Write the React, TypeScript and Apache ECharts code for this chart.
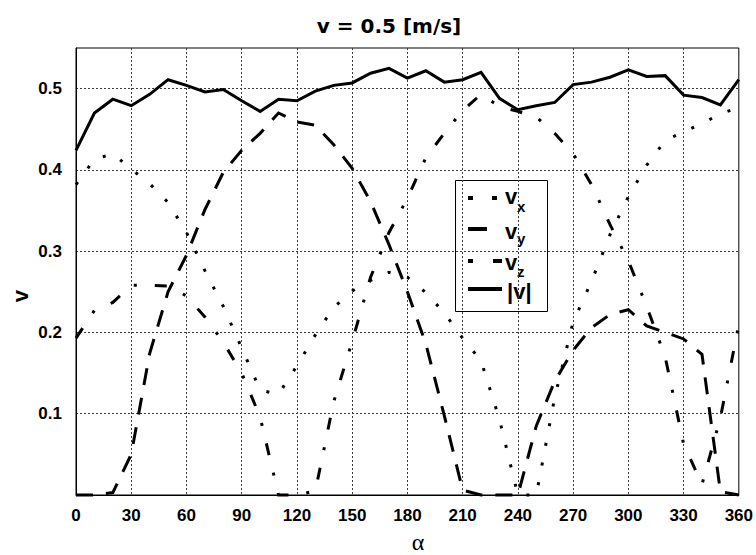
import React, { useEffect, useRef } from "react";
import * as echarts from "echarts";

// angle alpha [deg]
const alphaDeg = [
  0, 10, 20, 30, 40, 50, 60, 70, 80, 90, 100, 110, 120, 130, 140, 150, 160, 170, 180,
  190, 200, 210, 220, 230, 240, 250, 260, 270, 280, 290, 300, 310, 320, 330, 340, 350, 360,
];

// velocity components [m/s]
const vxValues = [
  0.382, 0.413, 0.42, 0.401, 0.383, 0.36, 0.323, 0.276, 0.232, 0.181, 0.129, 0.124, 0.159,
  0.197, 0.231, 0.251, 0.264, 0.274, 0.268, 0.249, 0.224, 0.193, 0.165, 0.093, 0.0, 0.0,
  0.12, 0.213, 0.263, 0.32, 0.367, 0.406, 0.436, 0.447, 0.457, 0.469, 0.477,
];
const vyValues = [
  0.0, 0.0, 0.003, 0.05, 0.174, 0.25, 0.295, 0.351, 0.397, 0.424, 0.445, 0.47, 0.459,
  0.455, 0.431, 0.402, 0.361, 0.308, 0.25, 0.186, 0.098, 0.006, 0.0, 0.0, 0.0, 0.085,
  0.14, 0.178, 0.206, 0.222, 0.228, 0.208, 0.2, 0.192, 0.173, 0.004, 0.0,
];
const vzValues = [
  0.193, 0.227, 0.237, 0.258, 0.258, 0.257, 0.245, 0.219, 0.188, 0.15, 0.096, 0.0, 0.0,
  0.005, 0.115, 0.189, 0.268, 0.323, 0.365, 0.415, 0.445, 0.473, 0.493, 0.478, 0.472,
  0.465, 0.445, 0.42, 0.382, 0.333, 0.288, 0.232, 0.17, 0.063, 0.013, 0.095, 0.21,
];
const vAbsValues = [
  0.424, 0.47, 0.487, 0.479, 0.493, 0.511, 0.504, 0.496, 0.499, 0.485, 0.472, 0.487, 0.485,
  0.497, 0.504, 0.507, 0.519, 0.525, 0.513, 0.522, 0.508, 0.511, 0.52, 0.488, 0.474, 0.479,
  0.483, 0.505, 0.508, 0.514, 0.523, 0.515, 0.516, 0.492, 0.489, 0.48, 0.511,
];

const seriesNames = ["vx", "vy", "vz", "|v|"];
const titleText = "v = 0.5 [m/s]";
const xAxisTitle = "\u03b1";
const yAxisTitle = "v";

const SANS = "'Liberation Sans', Arial, Helvetica, sans-serif";
const TITLE_FONT = "'DejaVu Sans', 'Liberation Sans', sans-serif";
const SERIF = "'Liberation Serif', 'Times New Roman', serif";

export default function App() {
  const ref = useRef<HTMLDivElement>(null);

  useEffect(() => {
    if (!ref.current) return;
    const chart = echarts.init(ref.current, null, { renderer: "svg" });
    const pair = (ys: number[]) => alphaDeg.map((a, i) => [a, ys[i]]);

    const lineSeries = (name: string, ys: number[], type: any) => ({
      name,
      type: "line",
      data: pair(ys),
      symbol: "none",
      showSymbol: false,
      clip: false,
      z: 3,
      lineStyle: { color: "#000", width: 3, type, cap: "butt", join: "miter" },
    });

    const legendX = 455.5;
    const legendY = 180.5;
    const sampleX = 468;
    const legendText = (text: string, x: number, y: number, size: number) => ({
      type: "text",
      x,
      y,
      style: {
        text,
        fontFamily: SANS,
        fontSize: size,
        fontWeight: "bold",
        fill: "#000",
        verticalAlign: "middle",
      },
    });
    const sample = (x: number, y: number, w: number) => ({
      type: "rect",
      shape: { x, y, width: w, height: 4 },
      style: { fill: "#000" },
    });

    const option: any = {
      animation: false,
      backgroundColor: "#fff",
      grid: {
        left: 76,
        right: 12,
        top: 48,
        bottom: 60,
        show: true,
        borderColor: "#000",
        borderWidth: 1,
        backgroundColor: "transparent",
      },
      xAxis: {
        type: "value",
        min: 0,
        max: 360,
        interval: 30,
        axisLine: { show: true, lineStyle: { color: "#000", width: 1 } },
        axisTick: { show: false },
        axisLabel: {
          margin: 12,
          color: "#000",
          fontFamily: SANS,
          fontSize: 17,
          fontWeight: "bold",
        },
        splitLine: {
          show: true,
          showMinLine: false,
          showMaxLine: false,
          lineStyle: { color: "#3a3a3a", width: 1, type: [2, 2] },
        },
      },
      yAxis: {
        type: "value",
        min: 0,
        max: 0.55,
        interval: 0.1,
        axisLine: { show: true, lineStyle: { color: "#000", width: 1 } },
        axisTick: { show: false },
        axisLabel: {
          margin: 14,
          color: "#000",
          fontFamily: SANS,
          fontSize: 17,
          fontWeight: "bold",
          formatter: (v: number) => (v < 0.05 || v > 0.52 ? "" : v.toFixed(1)),
        },
        splitLine: {
          show: true,
          showMinLine: false,
          showMaxLine: false,
          lineStyle: { color: "#3a3a3a", width: 1, type: [2, 2] },
        },
      },
      series: [
        lineSeries(seriesNames[0], vxValues, [3, 17]),
        lineSeries(seriesNames[1], vyValues, [17, 13]),
        lineSeries(seriesNames[2], vzValues, [12, 18, 3, 18]),
        lineSeries(seriesNames[3], vAbsValues, "solid"),
      ],
      graphic: [
        {
          type: "text",
          x: 389,
          y: 26,
          style: {
            text: titleText,
            fontFamily: TITLE_FONT,
            fontSize: 20,
            fontWeight: "bold",
            fill: "#000",
            align: "center",
            verticalAlign: "middle",
          },
        },
        {
          type: "text",
          x: 20,
          y: 296,
          rotation: Math.PI / 2,
          style: {
            text: yAxisTitle,
            fontFamily: SANS,
            fontSize: 22,
            fontWeight: "bold",
            fill: "#000",
            align: "center",
            verticalAlign: "middle",
          },
        },
        {
          type: "text",
          x: 418,
          y: 542,
          style: {
            text: xAxisTitle,
            fontFamily: SERIF,
            fontSize: 24,
            fill: "#000",
            align: "center",
            verticalAlign: "middle",
          },
        },
        {
          type: "group",
          z: 100,
          children: [
            {
              type: "rect",
              shape: { x: legendX, y: legendY, width: 92, height: 131 },
              style: { fill: "#fff", stroke: "#000", lineWidth: 1 },
            },
            // vx sample
            sample(sampleX, 196, 5),
            sample(sampleX + 24, 196, 5),
            // vy sample
            sample(sampleX, 227, 19),
            // vz sample
            sample(sampleX, 259, 5),
            sample(sampleX + 25, 259, 9),
            // |v| sample
            sample(sampleX, 287, 34),
            // labels
            legendText("v", 505, 196, 22),
            legendText("x", 517, 206, 15),
            legendText("v", 505, 231, 22),
            legendText("y", 517, 238, 15),
            legendText("v", 505, 262, 22),
            legendText("z", 517, 271, 15),
            legendText("|v|", 507, 291, 22),
          ],
        },
      ],
    };

    chart.setOption(option);
    return () => chart.dispose();
  }, []);

  return (
    <div
      ref={ref}
      style={{ position: "fixed", left: 0, top: 0, width: 756, height: 555, background: "#fff" }}
    />
  );
}
